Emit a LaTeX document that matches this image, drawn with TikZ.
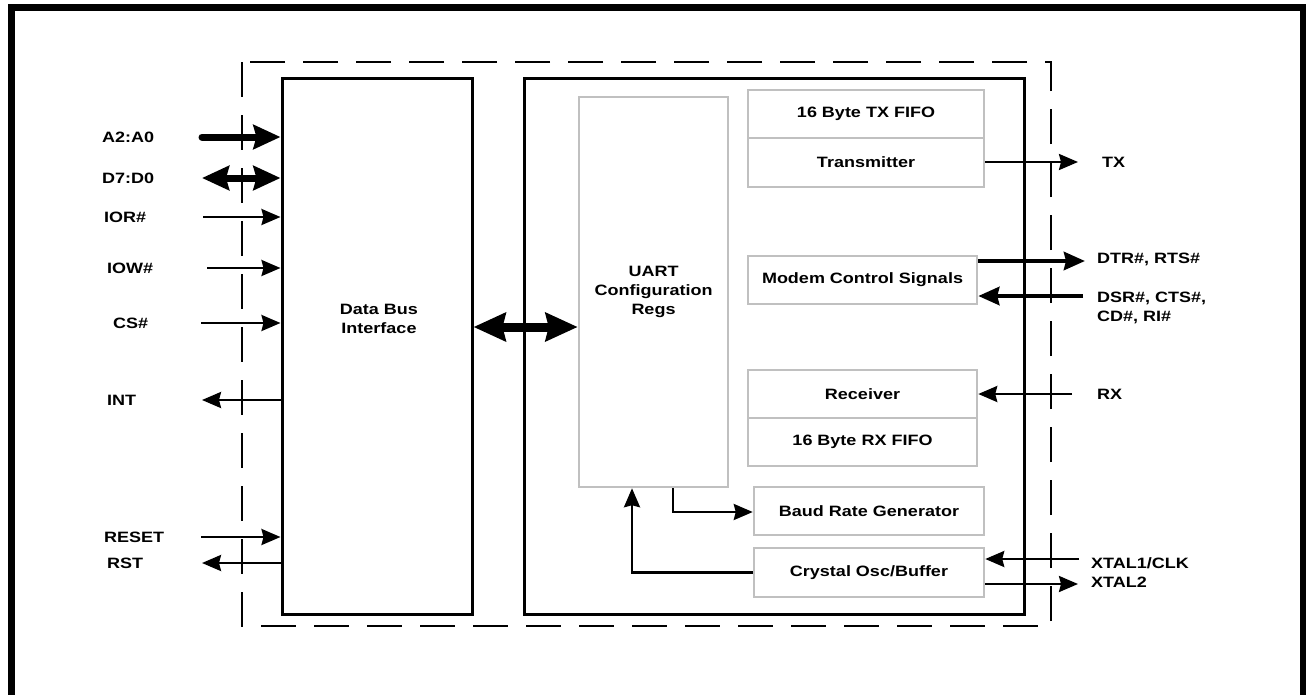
\documentclass[tikz,border=0pt]{standalone}
\usepackage{fontspec}
\setmainfont{Liberation Sans}[FakeStretch=1.2]
\usetikzlibrary{arrows.meta,calc}
\definecolor{boxgray}{RGB}{192,192,192}
\begin{document}
\begin{tikzpicture}[x=1pt,y=-1pt,
  lbl/.style={font=\fontsize{15}{19}\selectfont\bfseries, inner sep=0pt, text height=10.5pt, text depth=0pt},
  blackbox/.style={draw=black, line width=3pt, inner sep=0pt},
  graybox/.style={draw=boxgray, line width=2.5pt, inner sep=0pt, font=\fontsize{15}{19}\selectfont\bfseries, align=center},
  thinarr/.style={line width=2.5pt, -{Stealth[length=19pt,width=16pt,inset=2pt]}},
  midarr/.style={line width=4.5pt, -{Stealth[length=21pt,width=18pt,inset=2pt]}},
  fatarr/.style={line width=7pt, -{Stealth[length=27pt,width=24pt,inset=3pt]}},
  fatdbl/.style={line width=7pt, {Stealth[length=27pt,width=24pt,inset=3pt]}-{Stealth[length=27pt,width=24pt,inset=3pt]}},
  hugedbl/.style={line width=9pt, {Stealth[length=32pt,width=28pt,inset=3pt]}-{Stealth[length=32pt,width=28pt,inset=3pt]}},
  dashbox/.style={line width=2.5pt, dash pattern=on 35pt off 18pt}
]
\useasboundingbox (0,0) rectangle (1306,694);
% page frame
\draw[line width=6.5pt] (11.5,700) -- (11.5,7.5) -- (1303,7.5) -- (1303,700);
% dashed chip outline
\draw[dashbox] (242,62) rectangle (1051,626);
% main boxes
\node[blackbox, minimum width=190pt, minimum height=536pt] (dbi) at (377,346) {};
\node[lbl, align=center] (dbitxt) at (379,328) {Data Bus\\Interface};
\node[blackbox, minimum width=500pt, minimum height=536pt] (core) at (774,346) {};
% inner gray boxes
\node[graybox, minimum width=149pt, minimum height=390pt] (uart) at (653.5,292) {UART\\Configuration\\Regs};
\node[graybox, minimum width=236pt, minimum height=48pt] (txf) at (866,114) {16 Byte TX FIFO};
\node[graybox, minimum width=236pt, minimum height=49pt] (tx) at (866,162.5) {Transmitter};
\node[graybox, minimum width=229pt, minimum height=48pt] (modem) at (862.5,280) {Modem Control Signals};
\node[graybox, minimum width=229pt, minimum height=48pt] (rcv) at (862.5,394) {Receiver};
\node[graybox, minimum width=229pt, minimum height=48pt] (rxf) at (862.5,442) {16 Byte RX FIFO};
\node[graybox, minimum width=230pt, minimum height=48pt] (baud) at (869,511) {Baud Rate Generator};
\node[graybox, minimum width=230pt, minimum height=49pt] (cry) at (869,572.5) {Crystal Osc/Buffer};
% left signal labels
\node[lbl, anchor=west] (la) at (102,137) {A2:A0};
\node[lbl, anchor=west] (ld) at (102,178) {D7:D0};
\node[lbl, anchor=west] (lior) at (104,217) {IOR\#};
\node[lbl, anchor=west] (liow) at (107,268) {IOW\#};
\node[lbl, anchor=west] (lcs) at (113,323) {CS\#};
\node[lbl, anchor=west] (lint) at (107,400) {INT};
\node[lbl, anchor=west] (lres) at (104,537) {RESET};
\node[lbl, anchor=west] (lrst) at (107,563) {RST};
% left signal free ends
\coordinate (pa) at (202,137);
\coordinate (pd) at (202,178);
\coordinate (pior) at (203,217);
\coordinate (piow) at (207,268);
\coordinate (pcs) at (201,323);
\coordinate (pint) at (202,400);
\coordinate (pres) at (201,537);
\coordinate (prst) at (202,563);
\draw[fatarr, line cap=round] (pa) -- (pa -| dbi.west);
\draw[fatdbl] (pd) -- (pd -| dbi.west);
\draw[thinarr] (pior) -- (pior -| dbi.west);
\draw[thinarr] (piow) -- (piow -| dbi.west);
\draw[thinarr] (pcs) -- (pcs -| dbi.west);
\draw[thinarr] (pint -| dbi.west) -- (pint);
\draw[thinarr] (pres) -- (pres -| dbi.west);
\draw[thinarr] (prst -| dbi.west) -- (prst);
% bus between interface and config regs
\coordinate (pbus) at (472,327);
\draw[hugedbl] (pbus -| dbi.east) -- (pbus -| uart.west);
% right signal labels
\node[lbl, anchor=west] (ltx) at (1102,162) {TX};
\node[lbl, anchor=west] (ldtr) at (1097,258) {DTR\#, RTS\#};
\node[lbl, anchor=west] (ldsr) at (1097,297) {DSR\#, CTS\#,};
\node[lbl, anchor=west] (lcd) at (1097,316) {CD\#, RI\#};
\node[lbl, anchor=west] (lrx) at (1097,394) {RX};
\node[lbl, anchor=west] (lx1) at (1091,563) {XTAL1/CLK};
\node[lbl, anchor=west] (lx2) at (1091,582) {XTAL2};
% right signal free ends
\coordinate (ptx) at (1078,162);
\coordinate (pdtr) at (1085,261);
\coordinate (pdsr) at (1083,296);
\coordinate (prx) at (1072,394);
\coordinate (px1) at (1079,559);
\coordinate (px2) at (1078,584);
\draw[thinarr] (ptx -| tx.east) -- (ptx);
\draw[midarr] (pdtr -| modem.east) -- (pdtr);
\draw[midarr] (pdsr) -- (pdsr -| modem.east);
\draw[thinarr] (prx) -- (prx -| rcv.east);
\draw[thinarr] (px1) -- (px1 -| cry.east);
\draw[thinarr] (px2 -| cry.east) -- (px2);
% internal clock paths
\coordinate (pb) at (673,512);
\draw[thinarr] (pb |- uart.south) -- (pb) -- (pb -| baud.west);
\coordinate (pc) at (632,572.5);
\draw[thinarr] (pc -| cry.west) -- (pc) -- (pc |- uart.south);
\end{tikzpicture}
\end{document}
